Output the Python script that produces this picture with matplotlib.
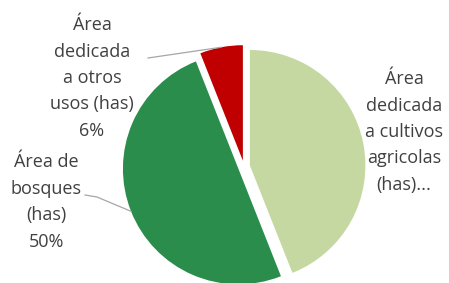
import numpy as np
import matplotlib
matplotlib.use("Agg")
from matplotlib import pyplot as plt

# datos del grafico
labels = ["Área\ndedicada\na cultivos\nagricolas\n(has)...",
          "Área de\nbosques\n(has)\n50%",
          "Área\ndedicada\na otros\nusos (has)\n6%"]
shares = [44, 50, 6]
colors = ["#C5D8A2", "#2A8D4B", "#C00000"]

plt.rcParams['font.family'] = ['Open Sans', 'DejaVu Sans']

fig = plt.figure(figsize=(4.49, 2.83), dpi=100)
ax = fig.add_axes([0, 0, 1, 1])

cx, cy, r = 244, 283 - 166.6, 115.5
expl = 6.0  # en unidades de datos (pixeles)
wedges, _ = ax.pie(shares, colors=colors, startangle=90, counterclock=False,
                   explode=[expl] * 3, center=(cx, cy), radius=r, frame=True)
ax.set_xlim(0, 449)
ax.set_ylim(0, 283)
ax.axis("off")

txt = dict(ha="center", va="center", fontsize=13, color="#404040", linespacing=1.6)

# etiqueta cultivos (sin linea guia)
ax.text(404, 283 - 132, labels[0], **txt)


def borde(w):
    # punto del arco en el angulo medio de la cuña
    ang = np.deg2rad((w.theta1 + w.theta2) / 2)
    c = w.center
    return c[0] + w.r * np.cos(ang), c[1] + w.r * np.sin(ang)


# bosques
bx, by = borde(wedges[1])
ax.text(46, 283 - 202, labels[1], **txt)
ax.plot([85, 97, bx], [283 - 195, 283 - 197, by], color="#a6a6a6", lw=0.9)

# otros usos
ox, oy = borde(wedges[2])
ax.text(92, 283 - 78, labels[2], **txt)
ax.plot([148, ox], [283 - 58, oy], color="#a6a6a6", lw=0.9)

fig.savefig("out.png", dpi=100)
